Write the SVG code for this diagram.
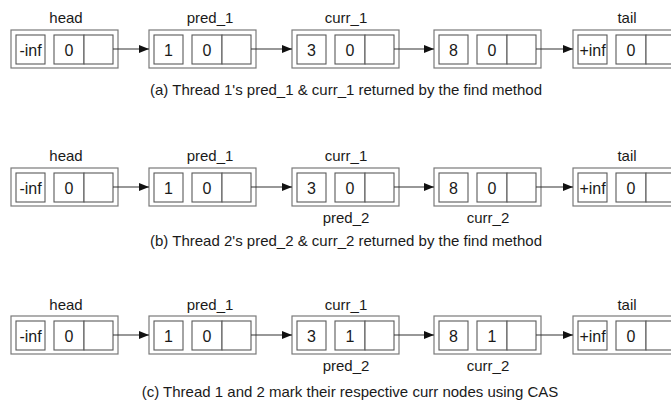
<svg xmlns="http://www.w3.org/2000/svg" width="671" height="403" viewBox="0 0 671 403">
<defs>
<style>
text{font-family:"Liberation Sans",Arial,sans-serif;fill:#1a1a1a}
.lbl{font-size:15px;text-anchor:middle}
.cap{font-size:15px;text-anchor:middle}
.val{font-size:16px;text-anchor:middle}
.outer{fill:#fff;stroke:#7a7a7a;stroke-width:1.2}
.cell{fill:#fff;stroke:#5a5a5a;stroke-width:1.1}
.conn{stroke:#333;stroke-width:1.1;fill:none;marker-end:url(#ah)}
</style>
<marker id="ah" viewBox="0 0 10 8" refX="10" refY="4" markerWidth="10" markerHeight="8" markerUnits="userSpaceOnUse" orient="auto">
<path d="M0,0 L10,4 L0,8 z" fill="#111"/>
</marker>
<g id="tpl">
<rect class="outer" x="0" y="0" width="107" height="38"/>
<rect class="cell" x="5" y="5" width="29" height="29"/>
<rect class="cell" x="43" y="5" width="30" height="29"/>
<rect class="cell" x="73" y="5" width="29" height="29"/>
</g>
</defs>
<rect width="671" height="403" fill="#fff"/>

<!-- Row (a) -->
<g id="a-head"><use href="#tpl" x="11" y="30"/><text class="val" x="30.5" y="55.5">-inf</text><text class="val" x="69" y="55.5">0</text></g>
<g id="a-n1"><use href="#tpl" x="149" y="30"/><text class="val" x="168.5" y="55.5">1</text><text class="val" x="207" y="55.5">0</text></g>
<g id="a-n3"><use href="#tpl" x="292" y="30"/><text class="val" x="311.5" y="55.5">3</text><text class="val" x="350" y="55.5">0</text></g>
<g id="a-n8"><use href="#tpl" x="434" y="30"/><text class="val" x="453.5" y="55.5">8</text><text class="val" x="492" y="55.5">0</text></g>
<g id="a-tail"><use href="#tpl" x="573" y="30"/><text class="val" x="592.5" y="55.5">+inf</text><text class="val" x="631" y="55.5">0</text></g>
<g id="a-labels">
<text class="lbl" x="66" y="23">head</text>
<text class="lbl" x="210" y="23">pred_1</text>
<text class="lbl" x="346" y="23">curr_1</text>
<text class="lbl" x="627" y="23">tail</text>
<text class="cap" x="346" y="94.5">(a) Thread 1's pred_1 &amp; curr_1 returned by the find method</text>
</g>

<!-- Row (b) -->
<g id="b-head"><use href="#tpl" x="11" y="168"/><text class="val" x="30.5" y="193.5">-inf</text><text class="val" x="69" y="193.5">0</text></g>
<g id="b-n1"><use href="#tpl" x="149" y="168"/><text class="val" x="168.5" y="193.5">1</text><text class="val" x="207" y="193.5">0</text></g>
<g id="b-n3"><use href="#tpl" x="292" y="168"/><text class="val" x="311.5" y="193.5">3</text><text class="val" x="350" y="193.5">0</text></g>
<g id="b-n8"><use href="#tpl" x="434" y="168"/><text class="val" x="453.5" y="193.5">8</text><text class="val" x="492" y="193.5">0</text></g>
<g id="b-tail"><use href="#tpl" x="573" y="168"/><text class="val" x="592.5" y="193.5">+inf</text><text class="val" x="631" y="193.5">0</text></g>
<g id="b-labels">
<text class="lbl" x="66" y="161">head</text>
<text class="lbl" x="210" y="161">pred_1</text>
<text class="lbl" x="346" y="161">curr_1</text>
<text class="lbl" x="627" y="161">tail</text>
<text class="lbl" x="346" y="223">pred_2</text>
<text class="lbl" x="488" y="223">curr_2</text>
<text class="cap" x="346" y="246">(b) Thread 2's pred_2 &amp; curr_2 returned by the find method</text>
</g>

<!-- Row (c) -->
<g id="c-head"><use href="#tpl" x="11" y="316"/><text class="val" x="30.5" y="341.5">-inf</text><text class="val" x="69" y="341.5">0</text></g>
<g id="c-n1"><use href="#tpl" x="149" y="316"/><text class="val" x="168.5" y="341.5">1</text><text class="val" x="207" y="341.5">0</text></g>
<g id="c-n3"><use href="#tpl" x="292" y="316"/><text class="val" x="311.5" y="341.5">3</text><text class="val" x="350" y="341.5">1</text></g>
<g id="c-n8"><use href="#tpl" x="434" y="316"/><text class="val" x="453.5" y="341.5">8</text><text class="val" x="492" y="341.5">1</text></g>
<g id="c-tail"><use href="#tpl" x="573" y="316"/><text class="val" x="592.5" y="341.5">+inf</text><text class="val" x="631" y="341.5">0</text></g>
<g id="c-labels">
<text class="lbl" x="66" y="310">head</text>
<text class="lbl" x="210" y="310">pred_1</text>
<text class="lbl" x="346" y="310">curr_1</text>
<text class="lbl" x="627" y="310">tail</text>
<text class="lbl" x="346" y="371">pred_2</text>
<text class="lbl" x="488" y="371">curr_2</text>
<text class="cap" x="350" y="397">(c) Thread 1 and 2 mark their respective curr nodes using CAS</text>
</g>

<g id="connectors">
<line class="conn" x1="113" y1="49" x2="149" y2="49"/>
<line class="conn" x1="251" y1="49" x2="292" y2="49"/>
<line class="conn" x1="394" y1="49" x2="434" y2="49"/>
<line class="conn" x1="536" y1="49" x2="573" y2="49"/>
<line class="conn" x1="113" y1="187" x2="149" y2="187"/>
<line class="conn" x1="251" y1="187" x2="292" y2="187"/>
<line class="conn" x1="394" y1="187" x2="434" y2="187"/>
<line class="conn" x1="536" y1="187" x2="573" y2="187"/>
<line class="conn" x1="113" y1="335" x2="149" y2="335"/>
<line class="conn" x1="251" y1="335" x2="292" y2="335"/>
<line class="conn" x1="394" y1="335" x2="434" y2="335"/>
<line class="conn" x1="536" y1="335" x2="573" y2="335"/>
</g>
</svg>
